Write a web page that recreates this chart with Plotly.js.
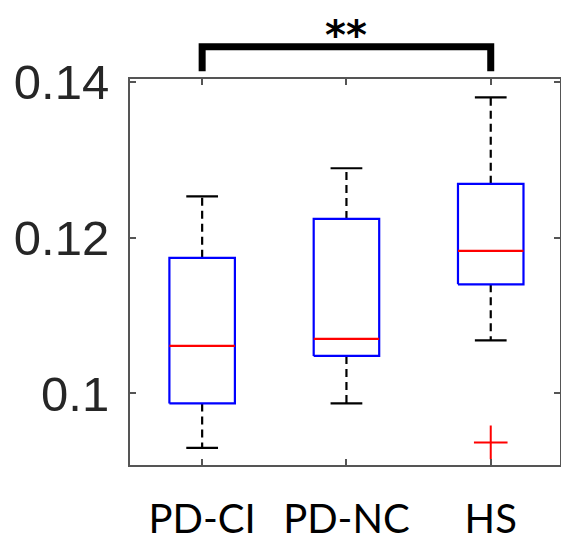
<!DOCTYPE html>
<html>
<head>
<meta charset="utf-8">
<script src="https://cdn.plot.ly/plotly-3.0.1.min.js"></script>
<style>html,body{margin:0;padding:0;background:#fff;}#chart{width:561px;height:543px;}</style>
</head>
<body>
<div id="chart"></div>
<script>
// ---- data ----
var categories = ['PD-CI', 'PD-NC', 'HS'];
var lowerWhisker = [0.0930, 0.0987, 0.1068];
var q1Values     = [0.0987, 0.1048, 0.1140];
var medianValues = [0.1061, 0.1070, 0.1183];
var q3Values     = [0.1174, 0.1224, 0.1269];
var upperWhisker = [0.1253, 0.1289, 0.1380];
var outlierCats  = ['HS'];
var outlierVals  = [0.0937];
var sigPair = ['PD-CI', 'HS'];
var sigLabel = '**';
var yTickVals = [0.1, 0.12, 0.14];
var yTickText = ['0.1', '0.12', '0.14'];

// ---- build marks ----
var BW = 0.227, CW = 0.11;
function pos(c) { return categories.indexOf(c) + 1; }
var bx = [], by = [], mx = [], my = [], wx = [], wy = [], cx = [], cy = [];
categories.forEach(function (c, i) {
  var xc = i + 1, x0 = xc - BW, x1 = xc + BW;
  bx.push(x0, x1, x1, x0, x0, null);
  by.push(q1Values[i], q1Values[i], q3Values[i], q3Values[i], q1Values[i], null);
  mx.push(x0, x1, null); my.push(medianValues[i], medianValues[i], null);
  wx.push(xc, xc, null, xc, xc, null);
  wy.push(q3Values[i], upperWhisker[i], null, q1Values[i], lowerWhisker[i], null);
  cx.push(xc - CW, xc + CW, null, xc - CW, xc + CW, null);
  cy.push(upperWhisker[i], upperWhisker[i], null, lowerWhisker[i], lowerWhisker[i], null);
});

var traces = [
  {x: wx, y: wy, mode: 'lines', line: {color: '#000', width: 2.2, dash: '8px,5px'}, hoverinfo: 'skip'},
  {x: cx, y: cy, mode: 'lines', line: {color: '#000', width: 2.2}, hoverinfo: 'skip'},
  {x: bx, y: by, mode: 'lines', line: {color: '#0000ff', width: 2.2}, hoverinfo: 'skip'},
  {x: mx, y: my, mode: 'lines', line: {color: '#ff0000', width: 2.2}, hoverinfo: 'skip'},
  {x: outlierCats.map(pos), y: outlierVals, mode: 'markers',
   marker: {symbol: 'cross-thin', size: 24, color: '#ff0000', line: {color: '#ff0000', width: 2}}, hoverinfo: 'skip'}
];

var a = pos(sigPair[0]), b = pos(sigPair[1]);
var layout = {
  width: 561, height: 543,
  margin: {l: 130, r: 1, t: 79, b: 78},
  paper_bgcolor: '#fff', plot_bgcolor: '#fff',
  showlegend: false,
  xaxis: {
    type: 'linear', range: [0.5, 3.48],
    tickvals: [1, 2, 3], ticktext: categories,
    showgrid: false, zeroline: false,
    showline: true, mirror: 'ticks', linecolor: '#555', linewidth: 2,
    ticks: 'inside', ticklen: 6, tickwidth: 2, tickcolor: '#555',
    ticklabelstandoff: 18,
    tickfont: {family: 'Lato, "Open Sans", sans-serif', size: 40, color: '#000'}
  },
  yaxis: {
    range: [0.0908, 0.14036],
    tickvals: yTickVals, ticktext: yTickText,
    showgrid: false, zeroline: false,
    showline: true, mirror: 'ticks', linecolor: '#555', linewidth: 2,
    ticks: 'inside', ticklen: 6, tickwidth: 2, tickcolor: '#555',
    ticklabelstandoff: 9,
    tickfont: {family: '"Liberation Sans", Arial, sans-serif', size: 49, color: '#262626'}
  },
  shapes: [{
    type: 'path', xref: 'x', yref: 'paper',
    path: 'M ' + a + ',1.0202 L ' + a + ',1.0837 L ' + b + ',1.0837 L ' + b + ',1.0202',
    line: {color: '#000', width: 7}
  }],
  annotations: [{
    x: (a + b) / 2, xref: 'x', y: 1.115, yref: 'paper', yanchor: 'middle',
    text: '<b>' + sigLabel + '</b>', showarrow: false,
    font: {family: '"DejaVu Sans", sans-serif', size: 40, color: '#000'}
  }]
};

Plotly.newPlot('chart', traces, layout, {staticPlot: true, displayModeBar: false});
</script>
</body>
</html>
